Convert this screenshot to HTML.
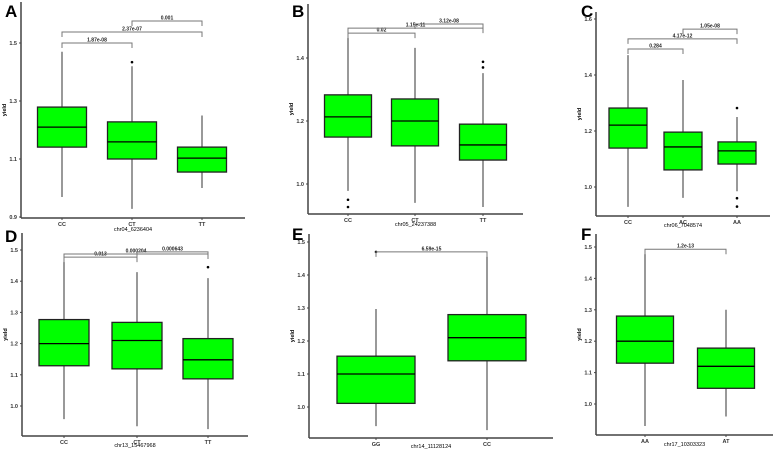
<!DOCTYPE html>
<html><head><meta charset="utf-8"><style>
html,body{margin:0;padding:0;background:#fff;}
svg{display:block;font-family:"Liberation Sans",sans-serif;}
</style></head><body>
<svg id="chart" width="777" height="451" viewBox="0 0 777 451" xmlns="http://www.w3.org/2000/svg"></svg>
<script>
// ---- data (values in yield units) ----
const catsA=["CC","CT","TT"];
const q1A=[1.141,1.100,1.055], medA=[1.210,1.159,1.103], q3A=[1.279,1.228,1.141], loA=[0.969,0.928,1.000], hiA=[1.470,1.420,1.250];
const outA=[[],[1.434],[]];
const ticksA=[0.9,1.1,1.3,1.5];
const brA=[[0,1,1.500,"1.87e-08"],[0,2,1.538,"2.37e-07"],[1,2,1.576,"0.001"]];

const catsB=["CC","CT","TT"];
const q1B=[1.149,1.121,1.076], medB=[1.213,1.200,1.124], q3B=[1.283,1.270,1.190], loB=[0.978,0.940,0.927], hiB=[1.479,1.432,1.352];
const outB=[[0.95,0.927],[],[1.388,1.370]];
const ticksB=[1.0,1.2,1.4];
const brB=[[0,1,1.479,"0.02"],[0,2,1.495,"1.15e-11"],[1,2,1.508,"3.12e-08"]];

const catsC=["CC","AC","AA"];
const q1C=[1.139,1.061,1.082], medC=[1.221,1.143,1.129], q3C=[1.282,1.196,1.161], loC=[0.929,0.961,0.985], hiC=[1.471,1.382,1.250];
const outC=[[],[],[1.282,0.960,0.930]];
const ticksC=[1.0,1.2,1.4,1.6];
const brC=[[0,1,1.493,"0.284"],[0,2,1.529,"4.17e-12"],[1,2,1.564,"1.05e-08"]];

const catsD=["CC","CT","TT"];
const q1D=[1.129,1.119,1.087], medD=[1.200,1.210,1.148], q3D=[1.277,1.268,1.216], loD=[0.958,0.935,0.926], hiD=[1.474,1.429,1.410];
const outD=[[],[],[1.445]];
const ticksD=[1.0,1.1,1.2,1.3,1.4,1.5];
const brD=[[0,1,1.477,"0.913"],[0,2,1.487,"0.000204"],[1,2,1.494,"0.000643"]];

const catsE=["GG","CC"];
const q1E=[1.011,1.140], medE=[1.100,1.210], q3E=[1.154,1.280], loE=[0.942,0.930], hiE=[1.297,1.470];
const outE=[[1.47],[]];
const ticksE=[1.0,1.1,1.2,1.3,1.4,1.5];
const brE=[[0,1,1.470,"6.59e-15"]];

const catsF=["AA","AT"];
const q1F=[1.130,1.050], medF=[1.200,1.120], q3F=[1.280,1.178], loF=[0.930,0.960], hiF=[1.478,1.300];
const outF=[[],[]];
const ticksF=[1.0,1.1,1.2,1.3,1.4,1.5];
const brF=[[0,1,1.493,"1.2e-13"]];

// ---- layout ----
const panels=[
 {id:"a",letter:"A",title:"chr04_6236404",cats:catsA,q1:q1A,med:medA,q3:q3A,lo:loA,hi:hiA,out:outA,ticks:ticksA,br:brA,ax:21,axR:245,top:2,bot:218,v0:0.9,p0:217,v1:1.5,p1:43,xs:[62,132,202],bw:49,lx:5,ly:17,ty:231},
 {id:"b",letter:"B",title:"chr05_24237388",cats:catsB,q1:q1B,med:medB,q3:q3B,lo:loB,hi:hiB,out:outB,ticks:ticksB,br:brB,ax:308,axR:523,top:4,bot:214,v0:1.0,p0:184,v1:1.4,p1:58,xs:[348,415,483],bw:47,lx:292,ly:17,ty:226},
 {id:"c",letter:"C",title:"chr06_7048574",cats:catsC,q1:q1C,med:medC,q3:q3C,lo:loC,hi:hiC,out:outC,ticks:ticksC,br:brC,ax:596,axR:770,top:12,bot:216,v0:1.0,p0:187,v1:1.6,p1:19,xs:[628,683,737],bw:38,lx:581,ly:17,ty:227},
 {id:"d",letter:"D",title:"chr13_15467968",cats:catsD,q1:q1D,med:medD,q3:q3D,lo:loD,hi:hiD,out:outD,ticks:ticksD,br:brD,ax:22,axR:248,top:233,bot:436,v0:1.0,p0:406,v1:1.5,p1:250,xs:[64,137,208],bw:50,lx:5,ly:242,ty:447},
 {id:"e",letter:"E",title:"chr14_11128124",cats:catsE,q1:q1E,med:medE,q3:q3E,lo:loE,hi:hiE,out:outE,ticks:ticksE,br:brE,ax:309,axR:553,top:234,bot:438,v0:1.0,p0:407,v1:1.5,p1:242,xs:[376,487],bw:78,lx:292,ly:240,ty:448},
 {id:"f",letter:"F",title:"chr17_10303323",cats:catsF,q1:q1F,med:medF,q3:q3F,lo:loF,hi:hiF,out:outF,ticks:ticksF,br:brF,ax:596,axR:773,top:234,bot:435,v0:1.0,p0:404,v1:1.5,p1:247,xs:[645,726],bw:57,lx:581,ly:240,ty:446}
];
const svg=document.getElementById('chart');
const NS="http://www.w3.org/2000/svg";
function mk(tag,attrs,parent,text){const e=document.createElementNS(NS,tag);for(const k in attrs)e.setAttribute(k,attrs[k]);if(text!==undefined)e.textContent=text;parent.appendChild(e);return e;}
panels.forEach(p=>{
 const y=v=>p.p0+(v-p.v0)*(p.p1-p.p0)/(p.v1-p.v0);
 const g=mk('g',{},svg);
 
 
 const L=mk('text',{x:p.lx,y:p.ly,'font-size':17,'font-weight':'bold',fill:'#000'},g,p.letter);
 
 
 const ya=mk('line',{x1:p.ax,y1:p.top,x2:p.ax,y2:p.bot,stroke:'#444','stroke-width':1.5},g);
 
 
 const xa=mk('line',{x1:p.ax,y1:p.bot,x2:p.axR,y2:p.bot,stroke:'#444','stroke-width':1.5},g);
 
 
 p.ticks.forEach(t=>{
  mk('line',{x1:p.ax-2,y1:y(t),x2:p.ax,y2:y(t),stroke:'#444','stroke-width':1},g);
  const tl=mk('text',{x:p.ax-4,y:y(t)+2,'font-size':5.5,'font-weight':'bold','text-anchor':'end',fill:'#333'},g,t.toFixed(1));
  
  
 });
 const yt=mk('text',{x:0,y:0,'font-size':5.5,'font-weight':'bold','text-anchor':'middle',fill:'#000',transform:`translate(${p.ax-15},${(p.top+p.bot)/2}) rotate(-90)`},g,'yield');
 
 
 const xt=mk('text',{x:(p.ax+p.axR)/2,y:p.ty,'font-size':5.5,'text-anchor':'middle',fill:'#000'},g,p.title);
 
 
 p.cats.forEach((c,i)=>{
  const x=p.xs[i],w=p.bw;
  mk('line',{x1:x,y1:y(p.hi[i]),x2:x,y2:y(p.lo[i]),stroke:'#333','stroke-width':1},g);
  const b=mk('rect',{x:x-w/2,y:y(p.q3[i]),width:w,height:y(p.q1[i])-y(p.q3[i]),fill:'#00ff00',stroke:'#222','stroke-width':1.3},g);
  
  
  const m=mk('line',{x1:x-w/2,y1:y(p.med[i]),x2:x+w/2,y2:y(p.med[i]),stroke:'#000','stroke-width':1.3},g);
  
  
  p.out[i].forEach(o=>{const d=mk('circle',{cx:x,cy:y(o),r:1.3,fill:'#000'},g);
   
   });
  mk('line',{x1:x,y1:p.bot,x2:x,y2:p.bot+2,stroke:'#444','stroke-width':1},g);
  const cl=mk('text',{x:x,y:p.bot+8,'font-size':5.5,'font-weight':'bold','text-anchor':'middle',fill:'#333'},g,c);
  
  
 });
 p.br.forEach(br=>{
  const x1=p.xs[br[0]],x2=p.xs[br[1]],yy=y(br[2]);
  const pl=mk('polyline',{points:`${x1},${yy+5} ${x1},${yy} ${x2},${yy} ${x2},${yy+5}`,fill:'none',stroke:'#777','stroke-width':1},g);
  
  
  const tx=mk('text',{x:(x1+x2)/2,y:yy-1.5,'font-size':5,'font-weight':'bold','text-anchor':'middle',fill:'#222'},g,br[3]);
  
  
 });
});
</script>
</body></html>
